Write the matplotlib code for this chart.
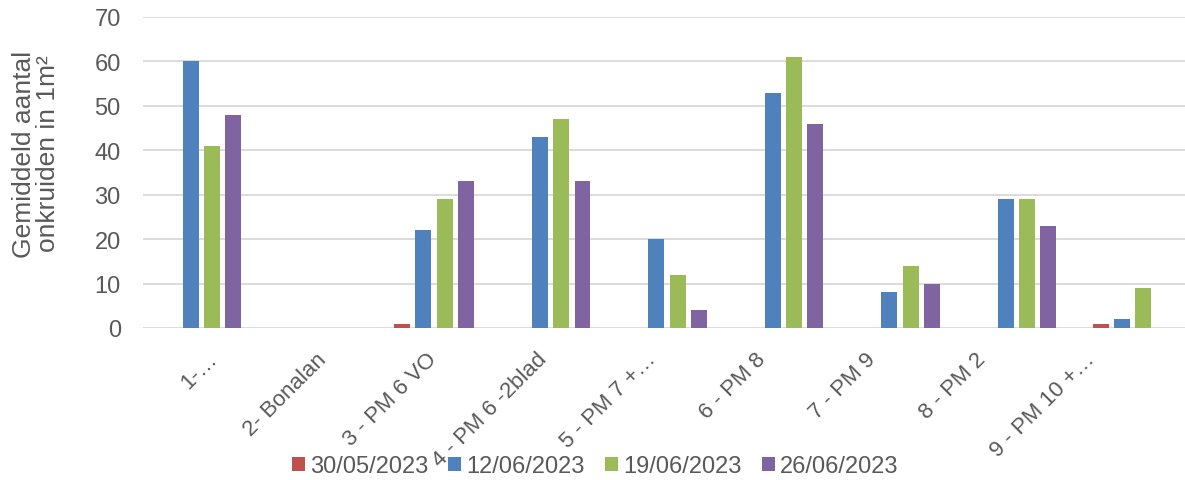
import matplotlib
matplotlib.use("Agg")
import matplotlib.pyplot as plt
import numpy as np

categories = ["1-…", "2- Bonalan", "3 - PM 6 VO", "4 - PM 6 -2blad", "5 - PM 7 +…",
              "6 - PM 8", "7 - PM 9", "8 - PM 2", "9 - PM 10 +…"]
series_names = ["30/05/2023", "12/06/2023", "19/06/2023", "26/06/2023"]
s_30_05 = [0, 0, 1, 0, 0, 0, 0, 0, 1]
s_12_06 = [60, 0, 22, 43, 20, 53, 8, 29, 2]
s_19_06 = [41, 0, 29, 47, 12, 61, 14, 29, 9]
s_26_06 = [48, 0, 33, 33, 4, 46, 10, 23, 0]
yticks = [0, 10, 20, 30, 40, 50, 60, 70]

colors = ["#C0504D", "#4F81BD", "#9BBB59", "#8064A2"]
text_color = "#595959"
grid_color = "#D9D9D9"

plt.rcParams['font.family'] = ['Liberation Sans', 'DejaVu Sans']

W, H = 1185, 481
fig = plt.figure(figsize=(W / 100, H / 100), dpi=100)
left, right = 143, 1191
bottom, top = 329, 18
cat_px = (right - left) / len(categories)
ax = fig.add_axes([left / W, (H - bottom) / H, (right - left) / W, (bottom - top) / H])

x = np.arange(len(categories))
pitch = 0.183
width = 0.137
all_series = [s_30_05, s_12_06, s_19_06, s_26_06]
for i, (vals, name, c) in enumerate(zip(all_series, series_names, colors)):
    ax.bar(x + (i - 1.5) * pitch, vals, width=width, color=c, label=name, zorder=3)

ax.set_xlim(-0.5, len(categories) - 0.5)
ax.set_ylim(0, 70)
ax.set_yticks(yticks)
ax.set_yticklabels([str(v) for v in yticks])
ax.yaxis.grid(True, color=grid_color, linewidth=1.3, zorder=0)
ax.set_axisbelow(True)
for sp in ax.spines.values():
    sp.set_visible(False)
ax.tick_params(axis='y', length=0, pad=16, labelsize=17, labelcolor=text_color)
ax.tick_params(axis='x', length=0, pad=20, labelsize=16, labelcolor=text_color)
# Label anchors are spaced slightly tighter than the categories (as in the reference)
label_pos = [((214 + 109.75 * i) - left) / cat_px - 0.5 for i in range(len(categories))]
ax.set_xticks(label_pos)
ax.set_xticklabels(categories, rotation=45, ha='right', va='center', rotation_mode='anchor')

fig.text(36 / W, 1 - 154 / H, "Gemiddeld aantal\nonkruiden in 1m²", rotation=90,
         ha='center', va='center', fontsize=19, color=text_color, linespacing=1.05)

fig.legend(loc='center', bbox_to_anchor=(595 / W, 1 - 467 / H), ncol=4, frameon=False,
           fontsize=17, labelcolor=text_color, handlelength=0.55, handleheight=0.55,
           handletextpad=0.22, columnspacing=0.85, borderpad=0, borderaxespad=0)

fig.savefig("out.png", dpi=100)
